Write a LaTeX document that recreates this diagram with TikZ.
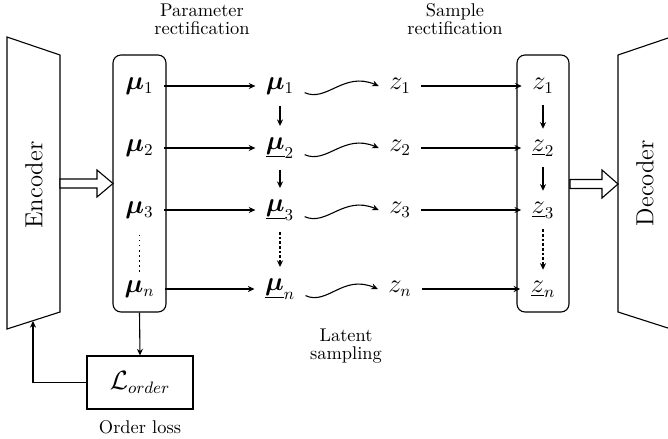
\documentclass[tikz,border=0pt]{standalone}
\usepackage{bm}
\usetikzlibrary{arrows.meta}
\begin{document}
\begin{tikzpicture}[x=0.5434pt,y=-0.5434pt,line width=0.6pt]
\tikzset{
 mth/.style={font=\fontsize{13.4}{16}\selectfont, inner xsep=5.43pt, inner ysep=1.45pt},
 big/.style={font=\fontsize{13.4}{16}\selectfont},
 lbl/.style={font=\fontsize{10}{9.8}\selectfont, align=center, inner sep=0pt},
 arr/.style={-{Stealth[length=3.6pt,width=3.3pt]}},
 rbox/.style={draw, rounded corners=4.35pt, inner sep=0pt},
 hollow/.style={draw, fill=white},
 vgap/.style={shorten <=4.35pt, shorten >=4.35pt},
 dgap/.style={dash pattern=on 1.45pt off 1.1pt},
}
\useasboundingbox (0,0) rectangle (668,438);
% encoder / decoder
\draw (7,37) -- (60,55) -- (60,312) -- (7,329) -- cycle;
\draw (618,55) -- (671,37) -- (671,329) -- (618,312) -- cycle;
\coordinate (encfb) at (33,321);
\node[big, rotate=90] (enc) at (34,185) {Encoder};
\node[big, rotate=90] (dec) at (645,183) {Decoder};
% hollow arrows
\draw[hollow] (60,179) -- (97,179) -- (97,170) -- (113,183.5) -- (97,197) -- (97,188) -- (60,188) -- cycle;
\draw[hollow] (570,179.5) -- (602,179.5) -- (602,170) -- (618,184) -- (602,198) -- (602,188.5) -- (570,188.5) -- cycle;
% boxes
\node[rbox, minimum width=28.8pt, minimum height=139.65pt] (mubox) at (139.5,183.5) {};
\node[rbox, minimum width=28.26pt, minimum height=139.65pt] (zbox) at (543,183.5) {};
\node[draw, big, minimum width=57.6pt, minimum height=28.8pt] (lbox) at (140,382.5) {$\mathcal{L}_{order}$};
% headers
\node[lbl] (h1) at (202,19) {Parameter\\rectification};
\node[lbl] (h2) at (455,19) {Sample\\rectification};
\node[lbl] (h3) at (346,346) {Latent\\sampling};
\node[lbl] (h4) at (140,427) {Order loss};
% left mu
\node[mth] (m1) at (139.5,86) {$\bm{\mu}_1$};
\node[mth] (m2) at (139.5,148) {$\bm{\mu}_2$};
\node[mth] (m3) at (139.5,210) {$\bm{\mu}_3$};
\node[mth] (mn) at (139.5,289) {$\bm{\mu}_n$};
% right mu
\node[mth] (r1) at (280,86) {$\bm{\mu}_1$};
\node[mth] (r2) at (280,148) {$\underline{\bm{\mu}}_2$};
\node[mth] (r3) at (280,210) {$\underline{\bm{\mu}}_3$};
\node[mth] (rn) at (280,289) {$\underline{\bm{\mu}}_n$};
% z
\node[mth] (z1) at (400,86) {$z_1$};
\node[mth] (z2) at (400,148) {$z_2$};
\node[mth] (z3) at (400,210) {$z_3$};
\node[mth] (zn) at (400,289) {$z_n$};
% boxed z
\node[mth] (s1) at (543,86) {$z_1$};
\node[mth] (s2) at (543,148) {$\underline{z}_2$};
\node[mth] (s3) at (543,210) {$\underline{z}_3$};
\node[mth] (sn) at (543,289) {$\underline{z}_n$};
% horizontal arrows
\foreach \i in {1,2,3,n}{
  \draw[arr] (m\i.east) -- (r\i.west);
  \draw[arr] (z\i.east) -- (s\i.west);
  \draw[arr] ([yshift=-3.6pt]r\i.east) .. controls +(22,10) and +(-35,-15) .. (z\i.west);
}
% vertical arrows
\draw[arr,vgap] (r1.south) -- (r1.south |- r2.north);
\draw[arr,vgap] (r2.south) -- (r2.south |- r3.north);
\draw[arr,vgap,dgap] (r3.south) -- (r3.south |- rn.north);
\draw[arr,vgap] (s1.south) -- (s1.south |- s2.north);
\draw[arr,vgap] (s2.south) -- (s2.south |- s3.north);
\draw[arr,vgap,dgap] (s3.south) -- (s3.south |- sn.north);
\draw[dotted, line width=0.75pt, shorten <=7.2pt, shorten >=2.9pt] (m3.south) -- (mn.north);
% loss
\draw[arr] (mubox.south) -- (lbox.north);
\draw[arr] (lbox.west) -| (encfb);
\end{tikzpicture}
\end{document}
